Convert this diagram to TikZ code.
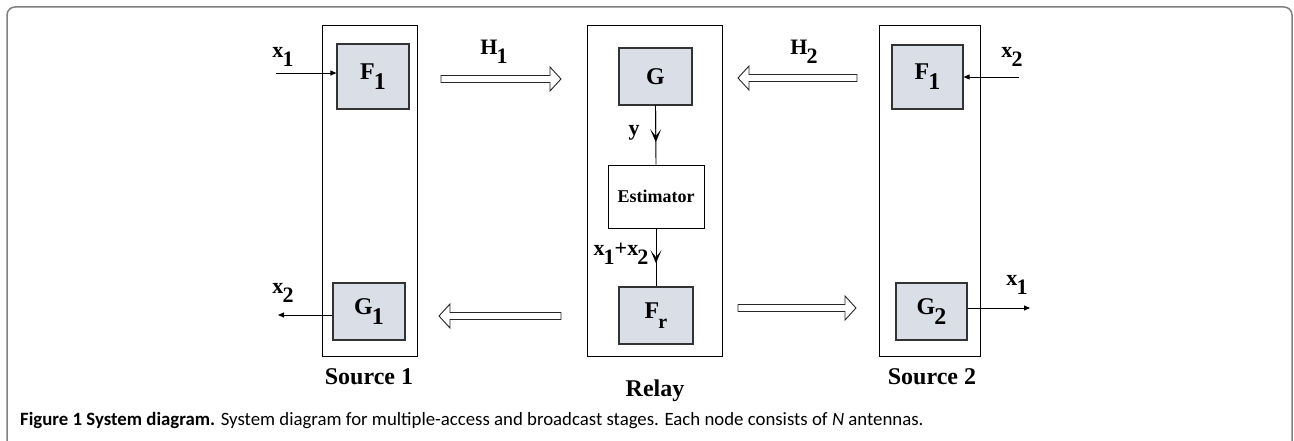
\documentclass[tikz,border=0pt]{standalone}
\usepackage{fontspec}
\setmainfont{Liberation Serif}
\newfontfamily\capfont{Carlito}
\usetikzlibrary{arrows.meta,calc}
\definecolor{boxfill}{HTML}{D9DEE7}
% index set at full size, dropped below the baseline
\newcommand\lowsub[1]{\kern-0.04em\raisebox{-0.42em}{#1}}
% open block arrow: tail point, tip point, direction (1 = right, -1 = left)
\newcommand\blockarrow[3]{%
  \draw[hollow] ($(#1)+(0,-3.5)$) -- ($(#2)+({-11*#3},-3.5)$) -- ($(#2)+({-11*#3},-12)$)
    -- (#2) -- ($(#2)+({-11*#3},12)$) -- ($(#2)+({-11*#3},3.5)$) -- ($(#1)+(0,3.5)$) -- cycle;}
\begin{document}
\begin{tikzpicture}[x=1pt,y=-1pt,
  frame/.style={draw=black!50, line width=1.5pt, rounded corners=8pt},
  outer/.style={draw=black, line width=0.9pt, inner sep=0},
  block/.style={draw=black!80, line width=1.2pt, fill=boxfill, inner sep=0,
                font=\fontsize{24}{24}\selectfont\bfseries},
  est/.style={draw=black, line width=0.9pt, inner sep=0,
              font=\fontsize{18}{18}\selectfont\bfseries},
  conn/.style={draw=black, line width=0.9pt},
  tipsmall/.style={-{Triangle[length=6pt,width=5pt]}},
  midtip/.style={-{Stealth[length=13pt,width=11pt,inset=7pt]}},
  hollow/.style={draw=black!85, line width=0.9pt, fill=white},
  lab/.style={inner sep=0, font=\fontsize{22}{22}\selectfont\bfseries},
  title/.style={inner sep=0, font=\fontsize{24}{24}\selectfont\bfseries}
]
\useasboundingbox (0,0) rectangle (1294,441);
\fill[white] (0,0) rectangle (1294,441);
\draw[frame] (7,460) -- (7,7) -- (1292,7) -- (1292,460);

% enclosures
\node[outer, minimum width=95pt, minimum height=331pt] (src1) at (369.5,190.5) {};
\node[outer, minimum width=135pt, minimum height=331pt] (relay) at (654.5,190.5) {};
\node[outer, minimum width=101pt, minimum height=331pt] (src2) at (929.5,190.5) {};

% processing blocks
\node[block, minimum width=72pt, minimum height=65pt] (F1a) at (373,76.5) {F\lowsub{1}};
\node[block, minimum width=72pt, minimum height=57pt] (G1) at (369,311.5) {G\lowsub{1}};
\node[block, minimum width=73pt, minimum height=57pt] (Gr) at (655.5,76.5) {G};
\node[est, minimum width=96pt, minimum height=63pt] (Est) at (656,196.5) {Estimator};
\node[block, minimum width=74pt, minimum height=57pt] (Fr) at (656,315.5) {F\lowsub{\fontsize{20}{20}\selectfont r}};
\node[block, minimum width=71pt, minimum height=64pt] (F1b) at (927.5,77) {F\lowsub{1}};
\node[block, minimum width=71pt, minimum height=57pt] (G2) at (931.5,311.5) {G\lowsub{2}};

% titles
\node[title] (t1) at (369,377) {Source 1};
\node[title] (tr) at (655,391) {Relay};
\node[title] (t2) at (932,377) {Source 2};

% source inputs and outputs
\coordinate (in1) at (276,73);
\coordinate (out1) at (278,315);
\coordinate (in2) at (1019,77);
\coordinate (out2) at (1030,308);
\draw[conn, tipsmall] (in1) -- (in1 -| F1a.west);
\draw[conn, tipsmall] (out1 -| G1.west) -- (out1);
\draw[conn, tipsmall] (in2) -- (in2 -| F1b.east);
\draw[conn, tipsmall] (out2 -| G2.east) -- (out2);
\node[lab] (lx1in) at (283,57) {x\lowsub{1}};
\node[lab] (lx2out) at (283,293) {x\lowsub{2}};
\node[lab] (lx2in) at (1012,57) {x\lowsub{2}};
\node[lab] (lx1out) at (1017,285) {x\lowsub{1}};

% relay chain
\draw[conn] (Gr.south) -- (Est.north);
\draw[conn, midtip] (Gr.south) -- ($(Gr.south)!0.62!(Est.north)$);
\draw[conn] (Est.south) -- (Fr.north);
\draw[conn, midtip] (Est.south) -- ($(Est.south)!0.6!(Fr.north)$);
\node[lab] (ly) at (634,133) {y};
\node[lab] (lsum) at (621,254) {x\lowsub{1}+x\lowsub{2}};

% channel arrows
\coordinate (h1a) at (441,79);  \coordinate (h1b) at (561,79);
\coordinate (h2a) at (857,78);  \coordinate (h2b) at (738,78);
\coordinate (b1a) at (561,316); \coordinate (b1b) at (439,316);
\coordinate (b2a) at (738,308); \coordinate (b2b) at (856,308);
\blockarrow{h1a}{h1b}{1}
\blockarrow{h2a}{h2b}{-1}
\blockarrow{b1a}{b1b}{-1}
\blockarrow{b2a}{b2b}{1}
\node[lab] (lh1) at (494,52) {H\lowsub{1}};
\node[lab] (lh2) at (804,52) {H\lowsub{2}};

% caption
\node[anchor=west, inner sep=0, font=\capfont\fontsize{18.8}{18.8}\selectfont] (cap) at (20,421)
  {\textbf{Figure 1 System diagram.} System diagram for multiple-access and broadcast stages. Each node consists of \textit{N} antennas.};
\end{tikzpicture}
\end{document}
